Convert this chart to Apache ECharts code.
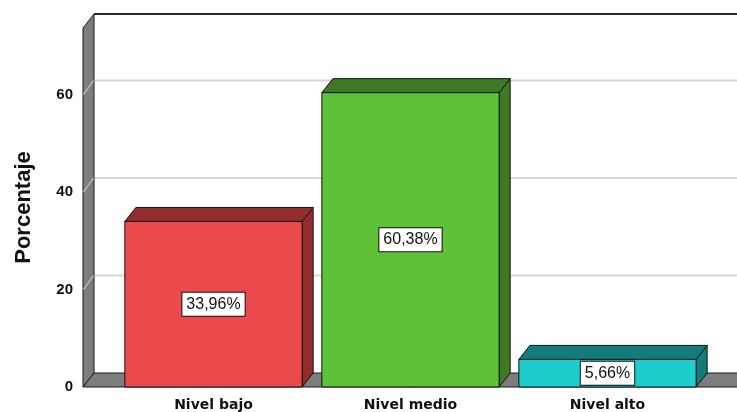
<!DOCTYPE html>
<html>
<head>
<meta charset="utf-8">
<title>Porcentaje por nivel</title>
<script src="https://cdn.jsdelivr.net/npm/echarts@6/dist/echarts.min.js"></script>
<style>
  html, body { margin: 0; padding: 0; background: #ffffff; }
  #chart { width: 737px; height: 412px; }
</style>
</head>
<body>
<div id="chart"></div>
<script>
// Categories and their percentages
const categories = ['Nivel bajo', 'Nivel medio', 'Nivel alto'];
const percentages = [33.96, 60.38, 5.66];
const yTicks = [0, 20, 40, 60];

// Face colours of each 3D bar: front face and shaded top/side faces
const frontColors = ['#eb4a4d', '#5ec239', '#1dcdcd'];
const shadeColors = ['#922c2d', '#3d7a23', '#127c7d'];

// Depth of the pseudo-3D extrusion (pixels)
const DX = 11, DY = 14;
// Left wall sits this far to the left of the category band area
const WALL_OFFSET = 32;

function fmtPct(v) {
  return v.toFixed(2).replace('.', ',') + '%';
}

const chart = echarts.init(document.getElementById('chart'), null, { renderer: 'canvas' });

function renderFrame(params, api) {
  const cs = params.coordSys;
  const left = cs.x - WALL_OFFSET;
  const right = 800;
  const yBottom = api.coord([0, 0])[1];
  const yTop = cs.y;
  const children = [];

  // Back wall gridlines
  yTicks.forEach(function (t) {
    if (t === 0) return;
    const y = api.coord([0, t])[1];
    children.push({
      type: 'line',
      shape: { x1: left + DX, y1: y - DY, x2: right, y2: y - DY },
      style: { stroke: '#d6d6d6', lineWidth: 2 }
    });
  });

  // Left wall
  children.push({
    type: 'polygon',
    shape: { points: [[left, yTop], [left + DX, yTop - DY], [left + DX, yBottom - DY], [left, yBottom]] },
    style: { fill: '#7d7d7d', stroke: '#1a1a1a', lineWidth: 1 }
  });
  // Gridline traces across the left wall
  yTicks.forEach(function (t) {
    if (t === 0) return;
    const y = api.coord([0, t])[1];
    children.push({
      type: 'line',
      shape: { x1: left + 0.5, y1: y, x2: left + DX - 0.5, y2: y - DY },
      style: { stroke: '#b4b4b4', lineWidth: 1.5 }
    });
  });

  // Floor
  children.push({
    type: 'polygon',
    shape: { points: [[left, yBottom], [left + DX, yBottom - DY], [right, yBottom - DY], [right, yBottom]] },
    style: { fill: '#7d7d7d', stroke: '#1a1a1a', lineWidth: 1 }
  });

  // Top edge of the back wall
  children.push({
    type: 'line',
    shape: { x1: left + DX, y1: yTop - DY, x2: right, y2: yTop - DY },
    style: { stroke: '#2a2a2a', lineWidth: 2 }
  });

  return { type: 'group', children: children };
}

function renderBar(params, api) {
  const i = api.value(0);
  const v = api.value(1);
  const base = api.coord([i, 0]);
  const top = api.coord([i, v]);
  const w = api.size([1, 0])[0] * 0.9;
  const x0 = top[0] - w / 2, x1 = top[0] + w / 2;
  const yT = top[1], yB = base[1];
  const stroke = { stroke: '#111111', lineWidth: 1 };
  return {
    type: 'group',
    children: [
      {
        type: 'polygon',
        shape: { points: [[x1, yT], [x1 + DX, yT - DY], [x1 + DX, yB - DY], [x1, yB]] },
        style: Object.assign({ fill: shadeColors[i] }, stroke)
      },
      {
        type: 'polygon',
        shape: { points: [[x0, yT], [x0 + DX, yT - DY], [x1 + DX, yT - DY], [x1, yT]] },
        style: Object.assign({ fill: shadeColors[i] }, stroke)
      },
      {
        type: 'rect',
        shape: { x: x0, y: yT, width: w, height: yB - yT },
        style: Object.assign({ fill: frontColors[i] }, stroke)
      },
      {
        type: 'text',
        x: top[0],
        y: (yT + yB) / 2,
        style: {
          text: fmtPct(v),
          fontFamily: 'Liberation Sans',
          fontSize: 16,
          fill: '#111111',
          align: 'center',
          verticalAlign: 'middle',
          backgroundColor: '#ffffff',
          borderColor: '#111111',
          borderWidth: 1,
          padding: [4, 4, 3, 4]
        }
      }
    ]
  };
}

const option = {
  backgroundColor: '#ffffff',
  animation: false,
  grid: { left: 115, right: 31, top: 28, bottom: 25 },
  xAxis: {
    type: 'category',
    data: categories,
    axisLine: { show: false },
    axisTick: { show: false },
    axisLabel: {
      margin: 11,
      color: '#111111',
      fontFamily: 'DejaVu Sans',
      fontWeight: 'bold',
      fontSize: 14
    }
  },
  yAxis: {
    type: 'value',
    min: 0,
    max: 73.64,
    interval: 20,
    offset: WALL_OFFSET,
    name: 'Porcentaje',
    nameLocation: 'middle',
    nameGap: 48,
    nameTextStyle: {
      fontFamily: 'Liberation Sans',
      fontWeight: 'bold',
      fontSize: 22,
      color: '#111111'
    },
    axisLine: { show: false },
    axisTick: { show: false },
    splitLine: { show: false },
    axisLabel: {
      margin: 10,
      padding: [5, 0, 0, 0],
      color: '#111111',
      fontFamily: 'Liberation Sans',
      fontWeight: 'bold',
      fontSize: 15,
      formatter: function (val) {
        return yTicks.indexOf(val) >= 0 ? String(val) : '';
      }
    }
  },
  series: [
    {
      type: 'custom',
      name: 'frame',
      silent: true,
      renderItem: renderFrame,
      data: [[0, 0]],
      z: 1
    },
    {
      type: 'custom',
      name: 'Porcentaje',
      renderItem: renderBar,
      data: percentages.map(function (v, i) { return [i, v]; }),
      z: 2
    }
  ]
};

chart.setOption(option);
</script>
</body>
</html>
